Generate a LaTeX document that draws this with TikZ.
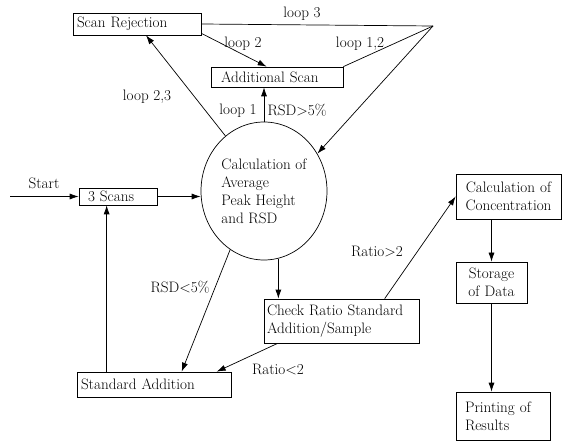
\documentclass[tikz,border=0pt]{standalone}
\usetikzlibrary{arrows.meta,shapes.geometric,calc}
\begin{document}
\begin{tikzpicture}[x=1bp,y=-1bp,
  every node/.style={font=\fontsize{15.2}{18}\selectfont},
  bx/.style={draw,line width=0.7bp,inner ysep=0pt},
  arr/.style={line width=0.7bp,-{Latex[length=9bp,width=6bp]}},
  ln/.style={line width=0.7bp},
  lbl/.style={inner sep=0pt}]
\useasboundingbox (0,0) rectangle (562,442);
% boxes
\node[bx,text width=120bp,inner xsep=4bp,minimum height=22bp,align=left] (sr) at (137,24) {Scan Rejection};
\node[bx,text width=112bp,inner xsep=10bp,minimum height=20bp,align=left] (as) at (277,77) {Additional Scan};
\node[draw,ellipse,line width=0.7bp,minimum width=126bp,minimum height=138bp,inner sep=0pt,align=left] (circ) at (264,191) {Calculation of\\Average\\Peak Height\\and RSD};
\node[bx,text width=60bp,inner xsep=9bp,minimum height=17bp,align=left] (sc) at (118,196.5) {3 Scans};
\node[bx,text width=146bp,inner xsep=4bp,minimum height=25bp,align=left] (sa) at (154,384.5) {Standard Addition};
\node[bx,text width=149bp,inner xsep=3bp,minimum height=44bp,align=left] (cr) at (341.5,321) {Check Ratio Standard\\Addition/Sample};
\node[bx,text width=99bp,inner xsep=3bp,minimum height=45bp,align=center] (cc) at (508.5,196.5) {Calculation of\\Concentration};
\node[bx,text width=65bp,inner xsep=3bp,minimum height=41bp,align=center] (sd) at (491.5,282.5) {Storage\\of Data};
\node[bx,text width=76bp,inner xsep=9bp,minimum height=48bp,align=left] (pr) at (503,416) {Printing of\\Results};
% coordinates
\coordinate (apex) at (433,26);
\coordinate (st) at (10,196.5);
\coordinate (sa1) at ($(sa.north west)+(30,0)$);
% connectors
\draw[arr] (st) -- (sc.west);
\draw[arr] (sc.east) -- (sc.east -| circ.west);
\draw[arr] (sa1) -- (sa1 |- sc.south);
\draw[arr] (circ.240) -- ($(sa.north west)+(105,0)$);
\draw[arr] (circ.north) -- (circ.north |- as.south);
\draw[arr] (circ.125) -- ($(sr.south)+(9,0)$);
\draw[arr] ($(sr.south east)+(0,-2)$) -- ($(as.north west)+(56,0)$);
\draw[ln] (sr.east) -- (apex);
\draw[ln] (as.north east) -- (apex);
\draw[arr] (apex) -- (circ.35);
\draw[arr] (circ.282) -- (circ.282 |- cr.north);
\draw[arr] ($(cr.south west)+(14,0)$) -- ($(sa.north west)+(140,0)$);
\draw[arr] ($(cr.north west)+(121,0)$) -- (cc.west);
\draw[arr] (cc.south -| sd.north) -- (sd.north);
\draw[arr] (sd.south) -- (sd.south |- pr.north);
% labels
\node[lbl] at (44,183) {Start};
\node[lbl] at (302,14) {loop 3};
\node[lbl] at (243,44) {loop 2};
\node[lbl] at (360,44) {loop 1,2};
\node[lbl] at (147,97) {loop 2,3};
\node[lbl] at (238,111) {loop 1};
\node[lbl] at (297,110) {RSD>5\%};
\node[lbl] at (180,287) {RSD<5\%};
\node[lbl] at (278,370) {Ratio<2};
\node[lbl] at (377,252) {Ratio>2};
\end{tikzpicture}
\end{document}
